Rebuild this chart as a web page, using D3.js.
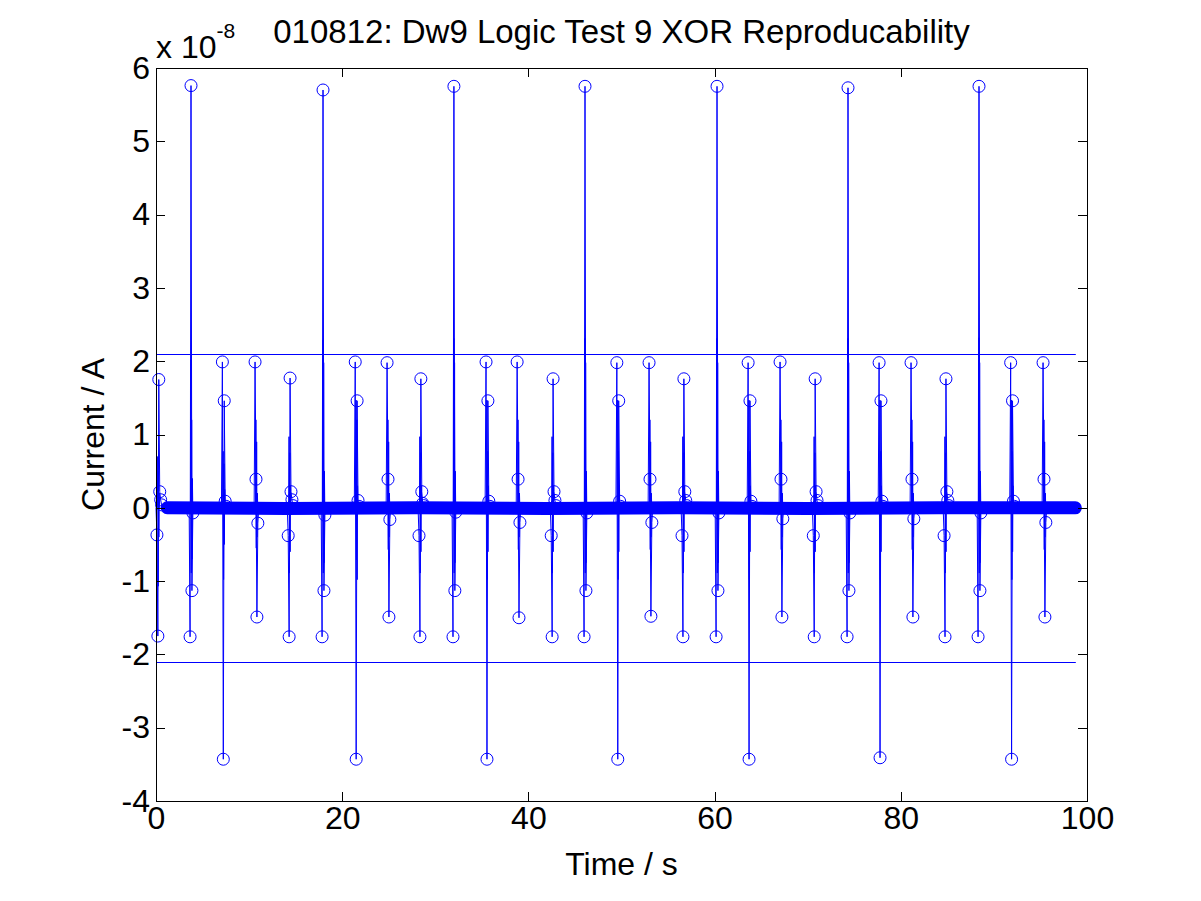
<!DOCTYPE html>
<html>
<head>
<meta charset="utf-8">
<script src="https://cdn.jsdelivr.net/npm/d3@7"></script>
<style>
body { margin: 0; background: #ffffff; }
text { font-family: "Liberation Sans", Arial, Helvetica, sans-serif; }
</style>
</head>
<body>
<div id="chart"></div>
<script>
var titleText = "010812: Dw9 Logic Test 9 XOR Reproducability";
var xLabel = "Time / s";
var yLabel = "Current / A";
var xTicks = [0, 20, 40, 60, 80, 100];
var yTicks = [-4, -3, -2, -1, 0, 1, 2, 3, 4, 5, 6];
var yExponent = "-8";

// samples around each switching event, current in units of 1e-8 A
var sampleStep = 0.1;
var ringStep = 0.04;
var spikeStart = [0.0, 3.56, 7.03, 10.54, 14.1, 17.74, 21.3, 24.72, 28.15, 31.8, 35.35, 38.69, 42.35, 45.88,
                  49.4, 52.86, 56.4, 60.06, 63.5, 66.93, 70.5, 74.13, 77.57, 81.0, 84.55, 88.2, 91.7, 95.18];
var spikeSamples = [
    [0.0, -0.37, -1.75, 1.75, 0.22, 0.11, 0.04],
    [0.0, -1.76, 5.76, -1.13, -0.07, 0.0],
    [0.0, 1.99, -3.43, 1.46, 0.09, 0.02],
    [0.0, 1.99, 0.39, -1.49, -0.21, 0.0],
    [0.0, -0.38, -1.76, 1.77, 0.22, 0.11, 0.03],
    [0.0, -1.76, 5.70, -1.13, -0.10, 0.0],
    [0.0, 1.99, -3.43, 1.46, 0.10, 0.02],
    [0.0, 1.98, 0.39, -1.49, -0.16, 0.0],
    [0.0, -0.38, -1.76, 1.76, 0.22, 0.06, 0.03],
    [0.0, -1.76, 5.75, -1.13, -0.06, 0.0],
    [0.0, 1.99, -3.43, 1.46, 0.09, 0.02],
    [0.0, 1.99, 0.39, -1.50, -0.20, 0.0],
    [0.0, -0.38, -1.76, 1.76, 0.22, 0.10, 0.03],
    [0.0, -1.76, 5.75, -1.13, -0.07, 0.0],
    [0.0, 1.98, -3.43, 1.46, 0.09, 0.02],
    [0.0, 1.98, 0.39, -1.48, -0.20, 0.0],
    [0.0, -0.38, -1.76, 1.76, 0.22, 0.10, 0.03],
    [0.0, -1.76, 5.75, -1.13, -0.07, 0.0],
    [0.0, 1.98, -3.43, 1.46, 0.09, 0.02],
    [0.0, 1.99, 0.39, -1.49, -0.15, 0.0],
    [0.0, -0.38, -1.76, 1.76, 0.22, 0.10, 0.03],
    [0.0, -1.76, 5.73, -1.13, -0.07, 0.0],
    [0.0, 1.98, -3.41, 1.46, 0.09, 0.02],
    [0.0, 1.98, 0.39, -1.49, -0.15, 0.0],
    [0.0, -0.38, -1.76, 1.76, 0.22, 0.10, 0.03],
    [0.0, -1.76, 5.75, -1.13, -0.07, 0.0],
    [0.0, 1.98, -3.43, 1.46, 0.09, 0.02],
    [0.0, 1.98, 0.39, -1.49, -0.20, 0.0]
];
var ringSamples = [
    [0.0, 0.70, -1.07, 0.50, -0.40, 0.20, 0.0],
    [0.0, 2.02, -0.89, 1.20, -0.70, 0.40, 0.0],
    [0.0, 0.77, -0.98, 0.60, -0.50, 0.25, 0.0],
    [0.0, 1.20, -0.55, 0.90, -0.40, 0.20, 0.0],
    [0.0, 0.97, -0.89, 0.75, -0.60, 0.30, 0.0],
    [0.0, 2.29, -0.89, 1.98, -0.75, 0.50, 0.0],
    [0.0, 1.47, -0.71, 1.20, -0.98, 0.30, 0.0],
    [0.0, 1.20, -0.57, 0.90, -0.40, 0.20, 0.0],
    [0.0, 0.97, -0.89, 0.75, -0.60, 0.30, 0.0],
    [0.0, 2.31, -0.89, 1.98, -0.75, 0.50, 0.0],
    [0.0, 1.47, -0.98, 0.77, -0.60, 0.30, 0.0],
    [0.0, 1.20, -0.57, 0.90, -0.40, 0.20, 0.0],
    [0.0, 0.97, -0.89, 0.75, -0.60, 0.30, 0.0],
    [0.0, 2.31, -0.89, 1.98, -0.75, 0.50, 0.0],
    [0.0, 1.47, -0.98, 0.77, -0.60, 0.30, 0.0],
    [0.0, 1.20, -0.57, 0.90, -0.40, 0.20, 0.0],
    [0.0, 0.97, -0.89, 0.75, -0.60, 0.30, 0.0],
    [0.0, 2.31, -0.89, 1.98, -0.75, 0.50, 0.0],
    [0.0, 1.47, -0.98, 0.77, -0.60, 0.30, 0.0],
    [0.0, 1.20, -0.57, 0.90, -0.40, 0.20, 0.0],
    [0.0, 0.97, -0.89, 0.75, -0.60, 0.30, 0.0],
    [0.0, 2.31, -0.89, 1.98, -0.75, 0.50, 0.0],
    [0.0, 1.47, -0.98, 0.77, -0.60, 0.30, 0.0],
    [0.0, 1.20, -0.57, 0.90, -0.40, 0.20, 0.0],
    [0.0, 0.97, -0.89, 0.75, -0.60, 0.30, 0.0],
    [0.0, 2.32, -0.89, 1.98, -0.75, 0.50, 0.0],
    [0.0, 1.47, -0.98, 0.77, -0.60, 0.30, 0.0],
    [0.0, 1.20, -0.57, 0.90, -0.40, 0.20, 0.0]
];
// resting level between events (dense run of markers)
var baselineTime = [1.2, 14.0, 28.0, 42.0, 56.0, 70.0, 84.0, 98.75];
var baselineValue = [0.0, -0.01, 0.0, -0.01, 0.0, -0.01, 0.0, 0.0];
var thresholds = [2.1, -2.1];
var thresholdSpan = [0, 98.8];

var w = 1201, h = 901;
var padLeft = 156, padRight = 1087, padTop = 68, padBottom = 801;
var blue = "#0000ff";

var svg = d3.select("#chart").append("svg").attr("width", w).attr("height", h).style("background", "#ffffff");
var xscale = d3.scaleLinear().domain([0, 100]).range([padLeft, padRight]);
var yscale = d3.scaleLinear().domain([-4, 6]).range([padBottom, padTop]);

var line = d3.line().x(function (d) { return xscale(d[0]); }).y(function (d) { return yscale(d[1]); });

// baseline band
var basePts = baselineTime.map(function (t, i) { return [t, baselineValue[i]]; });
svg.append("path").attr("d", line(basePts)).attr("fill", "none").attr("stroke", blue)
    .attr("stroke-width", 13).attr("stroke-linecap", "round");

// marker series
var markerPts = [];
spikeStart.forEach(function (t0, i) {
    spikeSamples[i].forEach(function (v, k) { markerPts.push([t0 + k * sampleStep, v]); });
});
svg.append("path").attr("d", line(markerPts)).attr("fill", "none").attr("stroke", blue).attr("stroke-width", 1);
svg.append("g").selectAll("circle").data(markerPts.filter(function (d) { return Math.abs(d[1]) > 0.015; }))
    .enter().append("circle")
    .attr("cx", function (d) { return xscale(d[0]); })
    .attr("cy", function (d) { return yscale(d[1]); })
    .attr("r", 6).attr("fill", "none").attr("stroke", blue).attr("stroke-width", 1);

// ringing trace without markers
spikeStart.forEach(function (t0, i) {
    var pts = ringSamples[i].map(function (v, k) { return [t0 + 0.15 + k * ringStep, v]; });
    svg.append("path").attr("d", line(pts)).attr("fill", "none").attr("stroke", blue).attr("stroke-width", 1);
});

// threshold lines
thresholds.forEach(function (v) {
    svg.append("line").attr("x1", xscale(thresholdSpan[0])).attr("x2", xscale(thresholdSpan[1]))
        .attr("y1", Math.round(yscale(v)) + 0.5).attr("y2", Math.round(yscale(v)) + 0.5)
        .attr("stroke", blue).attr("stroke-width", 1);
});

// axes box and ticks
function styleAxis(g) {
    g.attr("font-size", 32).attr("font-family", "Liberation Sans, Arial, Helvetica, sans-serif");
    g.select(".domain").remove();
    g.selectAll("line").attr("stroke", "#000").attr("shape-rendering", "crispEdges");
    g.selectAll("text").attr("fill", "#000");
}
function plainNum(d) { return String(d); }
svg.append("g").attr("transform", "translate(0," + padBottom + ")")
    .call(d3.axisBottom(xscale).tickValues(xTicks).tickSize(-9).tickPadding(5).tickFormat(plainNum)).call(styleAxis);
svg.append("g").attr("transform", "translate(0," + padTop + ")")
    .call(d3.axisTop(xscale).tickValues(xTicks).tickSize(-9).tickFormat("")).call(styleAxis);
svg.append("g").attr("transform", "translate(" + padLeft + ",0)")
    .call(d3.axisLeft(yscale).tickValues(yTicks).tickSize(-9).tickPadding(6).tickFormat(plainNum)).call(styleAxis);
svg.append("g").attr("transform", "translate(" + padRight + ",0)")
    .call(d3.axisRight(yscale).tickValues(yTicks).tickSize(-9).tickFormat("")).call(styleAxis);
svg.append("rect").attr("x", padLeft + 0.5).attr("y", padTop + 0.5).attr("width", padRight - padLeft).attr("height", padBottom - padTop)
    .attr("fill", "none").attr("stroke", "#000").attr("stroke-width", 1);

// exponent label
var ex = svg.append("text").attr("x", padLeft).attr("y", 58).attr("font-size", 32).attr("fill", "#000");
ex.append("tspan").text("x 10");
ex.append("tspan").attr("dy", -20).attr("font-size", 21).text(yExponent);

// titles
svg.append("text").attr("x", (padLeft + padRight) / 2).attr("y", 43).attr("text-anchor", "middle")
    .attr("font-size", 33).attr("fill", "#000").text(titleText);
svg.append("text").attr("x", (padLeft + padRight) / 2).attr("y", 875).attr("text-anchor", "middle")
    .attr("font-size", 32).attr("fill", "#000").text(xLabel);
svg.append("text").attr("transform", "translate(104," + (padTop + padBottom) / 2 + ") rotate(-90)")
    .attr("text-anchor", "middle").attr("font-size", 32).attr("fill", "#000").text(yLabel);
</script>
</body>
</html>
